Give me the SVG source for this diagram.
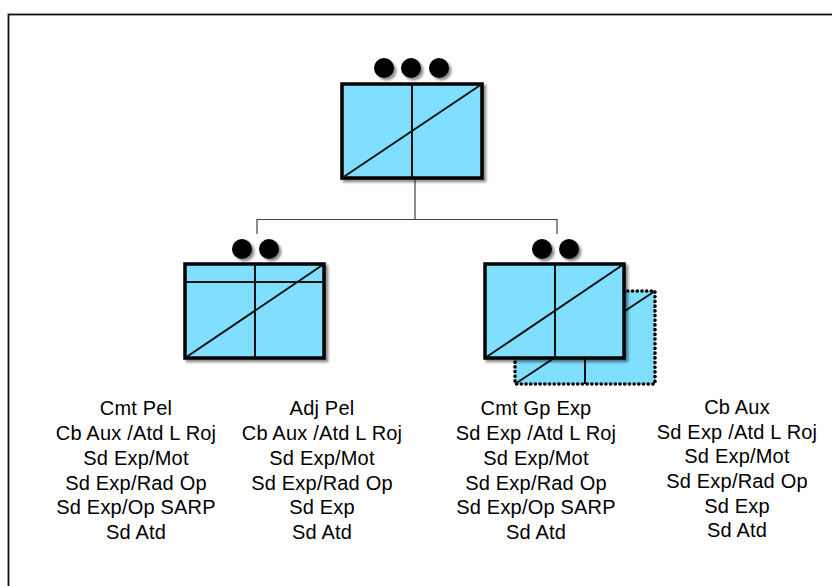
<svg xmlns="http://www.w3.org/2000/svg" width="832" height="586" viewBox="0 0 832 586">
  <defs>
    <filter id="shadow" x="-10%" y="-10%" width="130%" height="130%">
      <feDropShadow dx="2.5" dy="2.5" stdDeviation="1.2" flood-color="#000" flood-opacity="0.45"/>
    </filter>
  </defs>
  <style>
    .box { fill: #80dfff; stroke: #000; stroke-width: 3.5; }
    .inner { stroke: #111; stroke-width: 2; fill: none; }
    .ghost { fill: #80dfff; stroke: #000; stroke-width: 3.6; stroke-dasharray: 0.1 4.6; stroke-linecap: round; }
    .dot { fill: #000; }
    .wire { stroke: #444; stroke-width: 1.2; fill: none; }
    .lbl { font-family: "Liberation Sans", Arial, sans-serif; font-size: 20px; letter-spacing: 0.2px; fill: #000; text-anchor: middle; }
  </style>

  <rect x="8.5" y="14.5" width="900" height="700" fill="#fff" stroke="#111" stroke-width="1.8"/>

  <g id="connectors">
    <path class="wire" d="M415 180 V219.5 M257 234 V219.5 H557 V234"/>
  </g>

  <g id="node-top">
    <g filter="url(#shadow)">
      <circle class="dot" cx="384" cy="68" r="10"/>
      <circle class="dot" cx="411" cy="68" r="10"/>
      <circle class="dot" cx="439" cy="68" r="10"/>
      <rect class="box" x="342" y="84" width="140" height="94"/>
    </g>
    <path class="inner" d="M412 84 V178 M342 178 L482 84"/>
  </g>

  <g id="node-left">
    <g filter="url(#shadow)">
      <circle class="dot" cx="242" cy="249" r="10"/>
      <circle class="dot" cx="269" cy="249" r="10"/>
      <rect class="box" x="185" y="264" width="139" height="94"/>
    </g>
    <path class="inner" d="M255 264 V358 M185 282 H324 M185 358 L324 264"/>
  </g>

  <g id="node-right">
    <g id="node-right-copy">
      <rect class="ghost" x="515" y="291" width="140" height="93"/>
      <path class="inner" d="M585 358 V384 M515 384 L655 291"/>
    </g>
    <g filter="url(#shadow)">
      <circle class="dot" cx="542" cy="249" r="10"/>
      <circle class="dot" cx="569" cy="249" r="10"/>
      <rect class="box" x="485" y="264" width="139" height="94"/>
    </g>
    <path class="inner" d="M555 264 V358 M485 358 L624 264"/>
  </g>

  <g id="labels-1">
    <text class="lbl" x="136" y="415">Cmt Pel</text>
    <text class="lbl" x="136" y="440">Cb Aux /Atd L Roj</text>
    <text class="lbl" x="136" y="465">Sd Exp/Mot</text>
    <text class="lbl" x="136" y="490">Sd Exp/Rad Op</text>
    <text class="lbl" x="136" y="514">Sd Exp/Op SARP</text>
    <text class="lbl" x="136" y="539">Sd Atd</text>
  </g>
  <g id="labels-2">
    <text class="lbl" x="322" y="415">Adj Pel</text>
    <text class="lbl" x="322" y="440">Cb Aux /Atd L Roj</text>
    <text class="lbl" x="322" y="465">Sd Exp/Mot</text>
    <text class="lbl" x="322" y="490">Sd Exp/Rad Op</text>
    <text class="lbl" x="322" y="514">Sd Exp</text>
    <text class="lbl" x="322" y="539">Sd Atd</text>
  </g>
  <g id="labels-3">
    <text class="lbl" x="536" y="415">Cmt Gp Exp</text>
    <text class="lbl" x="536" y="440">Sd Exp /Atd L Roj</text>
    <text class="lbl" x="536" y="465">Sd Exp/Mot</text>
    <text class="lbl" x="536" y="490">Sd Exp/Rad Op</text>
    <text class="lbl" x="536" y="514">Sd Exp/Op SARP</text>
    <text class="lbl" x="536" y="539">Sd Atd</text>
  </g>
  <g id="labels-4">
    <text class="lbl" x="737" y="414">Cb Aux</text>
    <text class="lbl" x="737" y="439">Sd Exp /Atd L Roj</text>
    <text class="lbl" x="737" y="463">Sd Exp/Mot</text>
    <text class="lbl" x="737" y="488">Sd Exp/Rad Op</text>
    <text class="lbl" x="737" y="513">Sd Exp</text>
    <text class="lbl" x="737" y="537">Sd Atd</text>
  </g>
</svg>
